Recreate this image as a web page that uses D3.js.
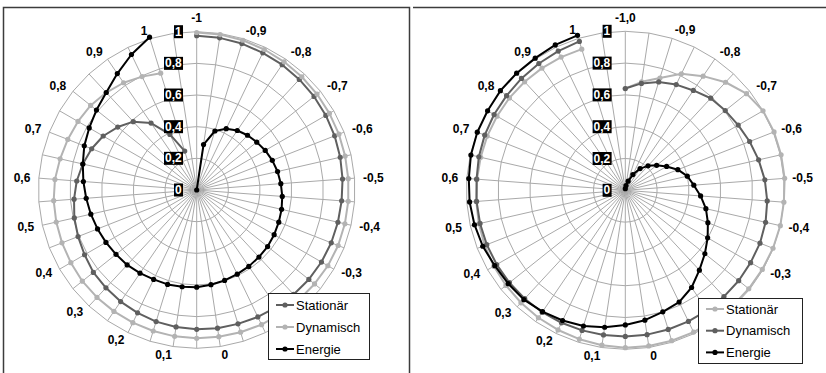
<!DOCTYPE html>
<html>
<head>
<meta charset="utf-8">
<script src="https://cdn.jsdelivr.net/npm/d3@7"></script>
<style>
  body { margin: 0; background: #fff; }
  svg { display: block; font-family: "Liberation Sans", Arial, sans-serif; }
</style>
</head>
<body>
<svg id="chart" width="826" height="373"></svg>
<script>
// Category axis: -1 … 1 in steps of 0.05 (labels on every 0.1), plus one trailing empty slot.
// The -0,2 / -0,1 slots sit beneath the legend box and carry no visible label.
const categoriesLeft = ["-1", "", "-0,9", "", "-0,8", "", "-0,7", "", "-0,6", "", "-0,5", "", "-0,4", "", "-0,3", "", "", "", "", "",
  "0", "", "0,1", "", "0,2", "", "0,3", "", "0,4", "", "0,5", "", "0,6", "", "0,7", "", "0,8", "", "0,9", "", "1", ""];
const categoriesRight = ["-1,0", "", "-0,9", "", "-0,8", "", "-0,7", "", "-0,6", "", "-0,5", "", "-0,4", "", "-0,3", "", "", "", "", "",
  "0", "", "0,1", "", "0,2", "", "0,3", "", "0,4", "", "0,5", "", "0,6", "", "0,7", "", "0,8", "", "0,9", "", "1", ""];

// Radial axis
const radialTicks = [0, 0.2, 0.4, 0.6, 0.8, 1];
const radialTickLabels = ["0", "0,2", "0,4", "0,6", "0,8", "1"];

const seriesNames = ["Stationär", "Dynamisch", "Energie"];

// Left diagram
const leftStationaer = [0.975, 0.972, 0.968, 0.962, 0.958, 0.953, 0.948, 0.942, 0.936, 0.93, 0.924, 0.918, 0.915, 0.913, 0.91, 0.906,
  0.90, 0.895, 0.89, 0.885, 0.883, 0.88, 0.875, 0.87, 0.861, 0.853, 0.843, 0.835, 0.818, 0.805, 0.793, 0.777, 0.76, 0.738, 0.713,
  0.682, 0.638, 0.589, 0.512, 0.39, 0.257, null];
const leftDynamisch = [0.995, 0.993, 0.99, 0.985, 0.98, 0.976, 0.972, 0.968, 0.965, 0.962, 0.96, 0.96, 0.96, 0.96, 0.957, 0.952,
  0.948, 0.946, 0.944, 0.94, 0.937, 0.937, 0.935, 0.932, 0.93, 0.928, 0.926, 0.924, 0.918, 0.914, 0.91, 0.906, 0.898, 0.885, 0.875,
  0.866, 0.857, 0.84, 0.82, 0.795, 0.772, null];
const leftEnergie = [0, 0.29, 0.39, 0.43, 0.455, 0.472, 0.485, 0.50, 0.513, 0.524, 0.533, 0.542, 0.55, 0.557, 0.565, 0.573,
  0.578, 0.584, 0.59, 0.598, 0.605, 0.614, 0.618, 0.624, 0.627, 0.636, 0.646, 0.652, 0.662, 0.673, 0.686, 0.70, 0.718, 0.738, 0.763,
  0.784, 0.81, 0.84, 0.89, 0.95, 1.01, null];

// Right diagram
const rightStationaer = [0.64, 0.69, 0.739, 0.813, 0.869, 0.927, 0.975, 1.0, 1.005, 1.005, 1.005, 1.0, 1.0, 0.998, 0.995, 0.993,
  0.992, 0.99, 0.99, 0.99, 0.99, 0.99, 0.985, 0.98, 0.975, 0.97, 0.965, 0.96, 0.955, 0.95, 0.945, 0.94, 0.935, 0.933, 0.933,
  0.932, 0.932, 0.931, 0.93, 0.93, 0.929, null];
const rightDynamisch = [0.64, 0.68, 0.713, 0.738, 0.76, 0.79, 0.804, 0.82, 0.84, 0.86, 0.88, 0.895, 0.905, 0.91, 0.91, 0.912,
  0.912, 0.914, 0.915, 0.916, 0.918, 0.919, 0.92, 0.922, 0.925, 0.928, 0.93, 0.932, 0.934, 0.936, 0.937, 0.938, 0.938, 0.945, 0.95,
  0.953, 0.955, 0.96, 0.965, 0.972, 0.98, null];
const rightEnergie = [0.01, 0.03, 0.06, 0.11, 0.165, 0.21, 0.252, 0.30, 0.355, 0.40, 0.432, 0.475, 0.52, 0.558, 0.598, 0.64,
  0.685, 0.74, 0.78, 0.80, 0.826, 0.847, 0.871, 0.893, 0.909, 0.924, 0.938, 0.942, 0.948, 0.963, 0.973, 0.982, 0.987, 0.996, 1.0,
  1.0, 1.005, 1.005, 1.006, 1.015, 1.02, null];

const DARK = "#5f5f5f", LIGHT = "#b3b3b3", BLACK = "#000000";
const GRID = "#a9a9a9";

const svg = d3.select("#chart");

// Panel frames
svg.append("path")
  .attr("d", "M3.5,380 V7.5 H409.5 V380")
  .attr("fill", "none").attr("stroke", "#3c3c3c").attr("stroke-width", 1.5);
svg.append("path")
  .attr("d", "M413,7.5 H826")
  .attr("fill", "none").attr("stroke", "#3c3c3c").attr("stroke-width", 1.5);

function drawRadar(cfg) {
  const g = svg.append("g").attr("transform", `translate(${cfg.cx},${cfg.cy})`);
  const n = cfg.categories.length;
  const R = cfg.radius;
  const r = d3.scaleLinear().domain([0, 1]).range([0, R]);
  const angle = d3.scaleLinear().domain([0, n]).range([0, 2 * Math.PI]);
  const idx = d3.range(n);

  // Ring gridlines (polygons through every spoke)
  const ring = d3.lineRadial().angle(i => angle(i)).curve(d3.curveLinearClosed);
  radialTicks.filter(t => t > 0).forEach(t => {
    g.append("path")
      .attr("d", ring.radius(r(t))(idx))
      .attr("fill", "none").attr("stroke", GRID).attr("stroke-width", 1);
  });

  // Spokes
  g.append("g").selectAll("line").data(idx).join("line")
    .attr("x1", 0).attr("y1", 0)
    .attr("x2", i => r(1) * Math.sin(angle(i)))
    .attr("y2", i => -r(1) * Math.cos(angle(i)))
    .attr("stroke", GRID).attr("stroke-width", 1);

  // Series
  const line = d3.lineRadial()
    .defined(d => d != null)
    .angle((d, i) => angle(i))
    .radius(d => r(d));
  cfg.series.forEach(s => {
    const sg = g.append("g");
    sg.append("path")
      .attr("d", line(s.values))
      .attr("fill", "none").attr("stroke", s.color).attr("stroke-width", 2)
      .attr("stroke-linejoin", "round");
    sg.selectAll("circle").data(s.values.map((v, i) => ({ v, i })).filter(d => d.v != null)).join("circle")
      .attr("cx", d => r(d.v) * Math.sin(angle(d.i)))
      .attr("cy", d => -r(d.v) * Math.cos(angle(d.i)))
      .attr("r", 2.6)
      .attr("fill", s.color);
  });

  // Radial value labels (white on black boxes, left of the vertical spoke)
  radialTicks.forEach((t, k) => {
    const lg = g.append("g");
    const txt = lg.append("text")
      .attr("x", -15).attr("y", -r(t))
      .attr("text-anchor", "end").attr("dominant-baseline", "central")
      .attr("font-size", 12).attr("font-weight", "bold").attr("fill", "#fff")
      .text(radialTickLabels[k]);
    const bb = txt.node().getBBox();
    lg.insert("rect", "text")
      .attr("x", bb.x - 1).attr("y", -r(t) - 6.5)
      .attr("width", bb.width + 2).attr("height", 13)
      .attr("fill", "#000");
  });

  // Category labels: the label box starts at a point just outside the rim,
  // vertically centred on it (above/below it at the very top/bottom)
  const gap = 8.5;
  idx.forEach(i => {
    const lab = cfg.categories[i];
    if (!lab) return;
    const a = angle(i);
    const s = Math.sin(a), c = Math.cos(a);
    const px = (R + gap) * s, py = -(R + gap) * c;
    const t = g.append("text")
      .attr("font-size", 12).attr("font-weight", "bold").attr("fill", "#000")
      .attr("dominant-baseline", "central")
      .text(lab);
    if (Math.abs(s) < 0.05) {
      t.attr("text-anchor", "middle").attr("x", px).attr("y", py - Math.sign(c) * 5);
    } else {
      t.attr("text-anchor", s > 0 ? "start" : "end").attr("x", px).attr("y", py);
    }
  });

  // Legend
  const L = cfg.legend;
  const lg = svg.append("g").attr("transform", `translate(${L.x},${L.y})`);
  lg.append("rect").attr("x", 0.5).attr("y", 0.5).attr("width", L.w).attr("height", L.h)
    .attr("fill", "#fff").attr("stroke", "#222").attr("stroke-width", 1);
  cfg.series.forEach((s, k) => {
    const y = L.row0 + k * L.rowStep;
    lg.append("line").attr("x1", 8).attr("x2", 26).attr("y1", y).attr("y2", y)
      .attr("stroke", s.color).attr("stroke-width", 2);
    lg.append("circle").attr("cx", 17).attr("cy", y).attr("r", 2.6).attr("fill", s.color);
    lg.append("text").attr("x", 28).attr("y", y).attr("dominant-baseline", "central")
      .attr("font-size", 13).attr("fill", "#000").text(s.name);
  });
}

drawRadar({
  cx: 196.7, cy: 190, radius: 158.3,
  categories: categoriesLeft,
  series: [
    { name: seriesNames[0], values: leftStationaer, color: DARK },
    { name: seriesNames[1], values: leftDynamisch, color: LIGHT },
    { name: seriesNames[2], values: leftEnergie, color: BLACK }
  ],
  legend: { x: 268, y: 293, w: 101, h: 66, row0: 12, rowStep: 22 }
});

drawRadar({
  cx: 625.3, cy: 190.3, radius: 159,
  categories: categoriesRight,
  series: [
    { name: seriesNames[0], values: rightStationaer, color: LIGHT },
    { name: seriesNames[1], values: rightDynamisch, color: DARK },
    { name: seriesNames[2], values: rightEnergie, color: BLACK }
  ],
  legend: { x: 698, y: 298, w: 104, h: 65, row0: 11, rowStep: 21.7 }
});
</script>
</body>
</html>
